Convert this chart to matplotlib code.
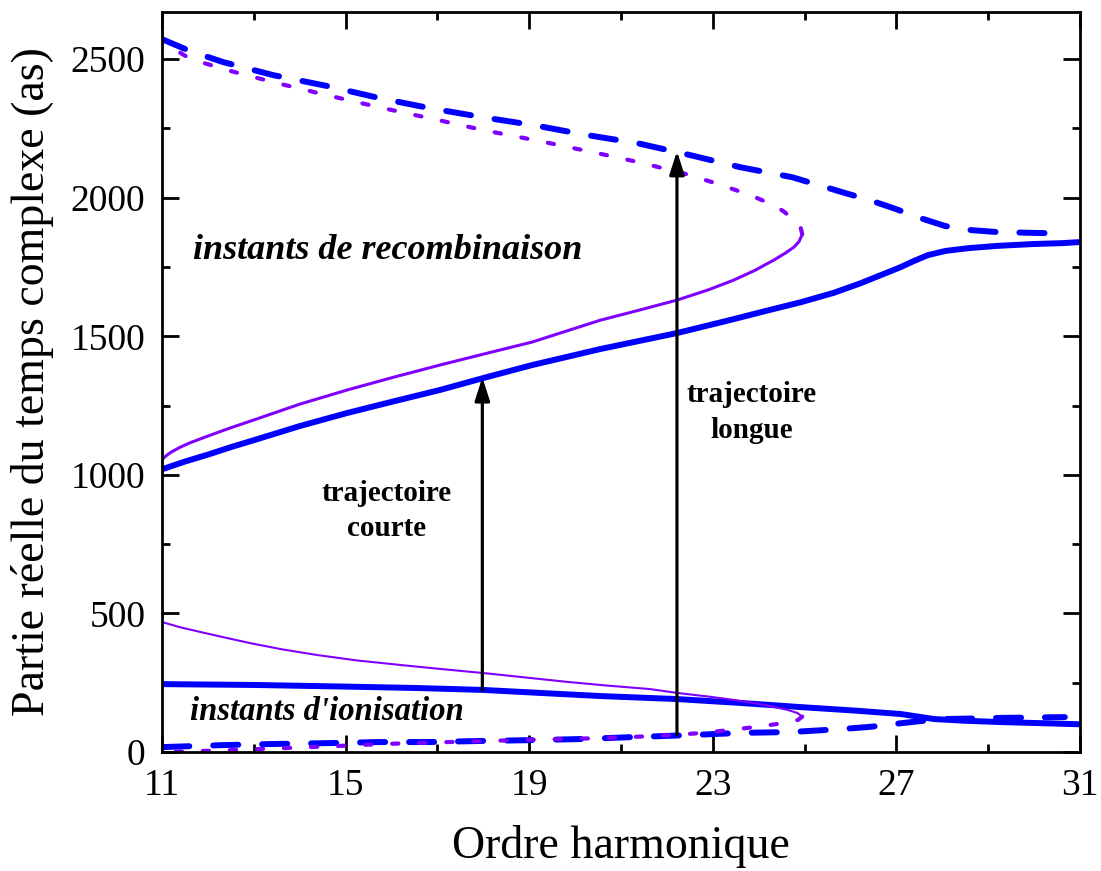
import numpy as np
import matplotlib
matplotlib.use('Agg')
import matplotlib.pyplot as plt

# trajectoire courte, instants de recombinaison (bleu plein)
court_rec_x = [11, 11.5, 12, 12.5, 13, 14, 15.03, 16.04, 17.05, 18.06, 19.06, 20.55, 21.39, 22.23, 23.41, 24.12, 24.92, 25.64, 26.23, 26.65, 27.1, 27.36, 27.69, 28.07, 28.57, 29.18, 30.0, 30.6, 31]
court_rec_y = [1020, 1048, 1073, 1100, 1125, 1176, 1223, 1265, 1306, 1352, 1396, 1454, 1483, 1512, 1560, 1590, 1623, 1657, 1692, 1720, 1750, 1770, 1793, 1808, 1818, 1826, 1833, 1836, 1840]

# trajectoire longue, instants de recombinaison (bleu tirets)
long_rec_x = [11, 11.6, 12.34, 13.43, 14.6, 15.75, 16.84, 18.0, 19.09, 20.26, 21.35, 22.5, 23.6, 24.73, 25.82, 26.44, 26.94, 27.55, 28.06, 28.56, 29.2, 30.32, 30.62]
long_rec_y = [2572, 2530, 2489, 2442, 2403, 2359, 2323, 2290, 2262, 2226, 2197, 2154, 2110, 2074, 2020, 1990, 1962, 1925, 1898, 1884, 1876, 1872, 1869]

# courbe violette du haut : branche courte (plein) puis branche longue (pointille)
viol_rec_court_x = [11, 11.1, 11.2, 11.4, 11.6, 12, 12.5, 13, 14, 15.03, 16.04, 17.05, 18.06, 19.06, 20.55, 21.39, 22.23, 22.91, 23.46, 23.92, 24.33, 24.58, 24.77, 24.88, 24.95]
viol_rec_court_y = [1055, 1070, 1082, 1100, 1115, 1140, 1170, 1198, 1255, 1306, 1352, 1396, 1438, 1479, 1558, 1594, 1631, 1668, 1703, 1738, 1775, 1800, 1822, 1842, 1868]
viol_rec_long_x = [24.95, 24.91, 24.77, 24.55, 24.33, 23.82, 23.11, 22.36, 21.39, 20.48, 19.27, 18.0, 16.94, 15.82, 14.62, 13.52, 12.5, 11.63, 11.05]
viol_rec_long_y = [1868, 1895, 1919, 1950, 1973, 2009, 2050, 2088, 2128, 2161, 2203, 2244, 2283, 2323, 2369, 2413, 2457, 2500, 2557]

# instants d'ionisation
court_ion_x = [11, 13, 15.03, 16.54, 18.0, 19.26, 20.55, 22.23, 23.61, 24.92, 26.14, 27.1, 27.46, 27.82, 28.47, 29.28, 30.19, 31]
court_ion_y = [245, 242, 236, 231, 224, 213, 202, 191, 177, 162, 149, 137, 128, 119, 113, 108, 104, 100]

long_ion_x = [11.05, 12.34, 13.43, 14.6, 15.75, 16.84, 18.0, 19.09, 20.17, 21.28, 22.5, 23.6, 24.69, 25.82, 26.44, 26.94, 27.55, 28.06, 28.66, 29.22, 30.67]
long_ion_y = [18, 25, 29, 32, 36, 36, 40, 43, 47, 54, 61, 69, 72, 83, 91, 101, 112, 119, 121, 123, 126]

viol_ion_court_x = [11, 11.4, 11.84, 12.4, 12.92, 13.6, 14.38, 15.22, 16.2, 17.05, 18.0, 18.86, 19.83, 20.68, 21.64, 22.23, 22.91, 23.46, 23.92, 24.33, 24.63, 24.84, 24.95]
viol_ion_court_y = [469, 450, 433, 412, 393, 371, 350, 331, 314, 300, 285, 270, 253, 240, 227, 213, 200, 188, 176, 163, 152, 141, 128]
viol_ion_long_x = [24.95, 24.86, 24.7, 24.22, 23.76, 22.8, 21.79, 20.55, 18.74, 17.24, 15.82, 14.72, 13.64, 12.5, 11.47, 11]
viol_ion_long_y = [128, 116, 108, 97, 87, 69, 58, 50, 43, 36, 29, 21, 14, 7, 2, 0]

# fleches (x, y_bas, y_haut)
fleches = [(17.98, 224, 1352), (22.22, 62, 2168)]

x_major = [11, 15, 19, 23, 27, 31]
x_minor = [13, 17, 21, 25, 29]
y_major = [0, 500, 1000, 1500, 2000, 2500]
y_minor = [250, 750, 1250, 1750, 2250]

bleu = '#0000ff'
violet = '#8000ff'

plt.rcParams['font.family'] = ['Liberation Serif', 'DejaVu Serif']

fig = plt.figure(figsize=(11.01, 8.71), dpi=100)
ax = fig.add_axes([0.1471, 0.1366, 0.8338, 0.8496])

ax.plot(court_rec_x, court_rec_y, color=bleu, lw=4.3, solid_capstyle='round')
ax.plot(long_rec_x, long_rec_y, color=bleu, lw=4.3, dashes=(4.2, 4.0), dash_capstyle='round')
ax.plot(viol_rec_court_x, viol_rec_court_y, color=violet, lw=2.2)
ax.plot(viol_rec_long_x, viol_rec_long_y, color=violet, lw=3.0, dashes=(1.5, 5.0), dash_capstyle='round')

ax.plot(court_ion_x, court_ion_y, color=bleu, lw=4.3, solid_capstyle='round')
ax.plot(long_ion_x, long_ion_y, color=bleu, lw=4.3, dashes=(4.2, 4.0), dash_capstyle='round')
ax.plot(viol_ion_court_x, viol_ion_court_y, color=violet, lw=1.5)
ax.plot(viol_ion_long_x, viol_ion_long_y, color=violet, lw=3.0, dashes=(1.5, 5.0), dash_capstyle='round')

for fx, y0, y1 in fleches:
    ax.annotate('', xy=(fx, y1), xytext=(fx, y0),
                arrowprops=dict(arrowstyle='-|>,head_length=1.4,head_width=0.45',
                                color='black', lw=2.3, shrinkA=0, shrinkB=0))

ax.text(15.9, 870, 'trajectoire\ncourte', ha='center', va='center',
        fontsize=21, fontweight='bold', linespacing=1.4)
ax.text(23.85, 1225, 'trajectoire\nlongue', ha='center', va='center',
        fontsize=21, fontweight='bold', linespacing=1.4)
ax.text(11.68, 1810, 'instants de recombinaison', ha='left', va='center',
        fontsize=26, fontweight='bold', style='italic')
ax.text(11.61, 145, "instants d'ionisation", ha='left', va='center',
        fontsize=23.5, fontweight='bold', style='italic')

ax.set_xlim(11, 31)
ax.set_ylim(0, 2670)
ax.set_xticks(x_major)
ax.set_xticks(x_minor, minor=True)
ax.set_yticks(y_major)
ax.set_yticks(y_minor, minor=True)
ax.tick_params(which='both', direction='in', top=True, right=True, width=2)
ax.tick_params(which='major', length=12, labelsize=27, pad=12)
ax.tick_params(which='minor', length=6)
for s in ax.spines.values():
    s.set_linewidth(2)

ax.set_xlabel('Ordre harmonique', fontsize=33, labelpad=16)
ax.set_ylabel('Partie réelle du temps complexe (as)', fontsize=33, labelpad=12)

fig.savefig('out.png', dpi=100)
